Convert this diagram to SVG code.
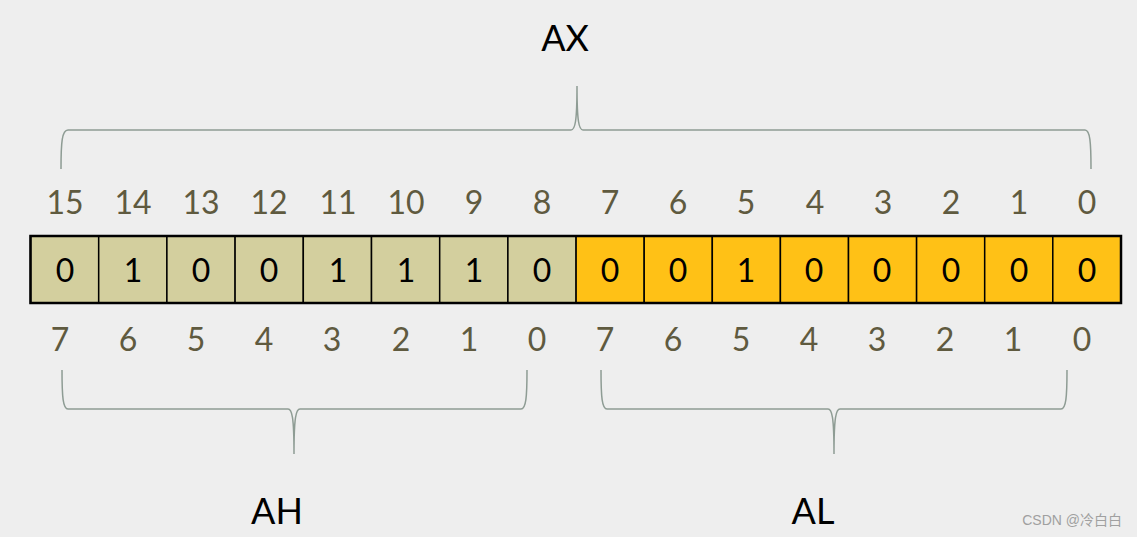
<svg xmlns="http://www.w3.org/2000/svg" width="1137" height="537" viewBox="0 0 1137 537">
<style>
.bg{fill:#eeeeee}
.hi{fill:#d3cf9e;stroke:#000;stroke-width:1.5}
.lo{fill:#ffc116;stroke:#000;stroke-width:1.5}
.frame{fill:none;stroke:#000;stroke-width:2.5}
.bit{font-family:Lato,"Open Sans",sans-serif;font-size:32px;fill:#000;text-anchor:middle}
.idx{font-family:Lato,"Open Sans",sans-serif;font-size:32px;fill:#5f5a3f;text-anchor:middle}
.name{font-family:Lato,"Liberation Sans",sans-serif;font-size:36px;fill:#000;text-anchor:middle}
.brace{fill:none;stroke:#8e9c94;stroke-width:1.5}
.wm{font-family:"Liberation Sans","Noto Sans CJK SC",sans-serif;font-size:14px;fill:#a0a0a0;text-anchor:end}
</style>
<rect class="bg" x="0" y="0" width="1137" height="537"/>

<g id="connectors">
<path id="brace-ax" class="brace" d="M61,169 C61,142 62,130 68,130 L571,130 C575,130 577,122 577,86 C577,122 579,130 583,130 L1085,130 C1090,130 1091,142 1091,169"/>
<path id="brace-ah" class="brace" d="M62,370 C62,397 63,409 68,409 L288,409 C292,409 294,417 294,454 C294,417 296,409 300,409 L521,409 C526,409 527,397 527,370"/>
<path id="brace-al" class="brace" d="M601,370 C601,397 602,409 607,409 L828,409 C832,409 834,417 834,454 C834,417 836,409 840,409 L1061,409 C1066,409 1067,397 1067,370"/>
</g>

<g id="register-ax">
<g id="ah-cells">
<rect class="hi" x="30.5" y="236" width="68.2" height="67"/>
<rect class="hi" x="98.7" y="236" width="68.2" height="67"/>
<rect class="hi" x="166.9" y="236" width="68.2" height="67"/>
<rect class="hi" x="235.1" y="236" width="68.2" height="67"/>
<rect class="hi" x="303.3" y="236" width="68.2" height="67"/>
<rect class="hi" x="371.5" y="236" width="68.2" height="67"/>
<rect class="hi" x="439.7" y="236" width="68.2" height="67"/>
<rect class="hi" x="507.9" y="236" width="68.2" height="67"/>
</g>
<g id="al-cells">
<rect class="lo" x="576.1" y="236" width="68.1" height="67"/>
<rect class="lo" x="644.2" y="236" width="68.1" height="67"/>
<rect class="lo" x="712.3" y="236" width="68.1" height="67"/>
<rect class="lo" x="780.4" y="236" width="68.1" height="67"/>
<rect class="lo" x="848.5" y="236" width="68.1" height="67"/>
<rect class="lo" x="916.6" y="236" width="68.1" height="67"/>
<rect class="lo" x="984.7" y="236" width="68.1" height="67"/>
<rect class="lo" x="1052.8" y="236" width="68.2" height="67"/>
</g>
<rect class="frame" x="30.5" y="236" width="1090.5" height="67"/>
</g>

<g id="bits">
<text class="bit" x="65" y="282">0</text>
<text class="bit" x="133" y="282">1</text>
<text class="bit" x="201" y="282">0</text>
<text class="bit" x="269" y="282">0</text>
<text class="bit" x="338" y="282">1</text>
<text class="bit" x="406" y="282">1</text>
<text class="bit" x="474" y="282">1</text>
<text class="bit" x="542" y="282">0</text>
<text class="bit" x="610" y="282">0</text>
<text class="bit" x="678" y="282">0</text>
<text class="bit" x="746" y="282">1</text>
<text class="bit" x="814" y="282">0</text>
<text class="bit" x="882" y="282">0</text>
<text class="bit" x="951" y="282">0</text>
<text class="bit" x="1019" y="282">0</text>
<text class="bit" x="1087" y="282">0</text>
</g>

<g id="ax-index">
<text class="idx" x="65" y="214">15</text>
<text class="idx" x="133" y="214">14</text>
<text class="idx" x="201" y="214">13</text>
<text class="idx" x="269" y="214">12</text>
<text class="idx" x="338" y="214">11</text>
<text class="idx" x="406" y="214">10</text>
<text class="idx" x="474" y="214">9</text>
<text class="idx" x="542" y="214">8</text>
<text class="idx" x="610" y="214">7</text>
<text class="idx" x="678" y="214">6</text>
<text class="idx" x="746" y="214">5</text>
<text class="idx" x="815" y="214">4</text>
<text class="idx" x="883" y="214">3</text>
<text class="idx" x="951" y="214">2</text>
<text class="idx" x="1019" y="214">1</text>
<text class="idx" x="1087" y="214">0</text>
</g>

<g id="byte-index">
<text class="idx" x="60" y="351">7</text>
<text class="idx" x="128" y="351">6</text>
<text class="idx" x="196" y="351">5</text>
<text class="idx" x="264" y="351">4</text>
<text class="idx" x="332" y="351">3</text>
<text class="idx" x="401" y="351">2</text>
<text class="idx" x="469" y="351">1</text>
<text class="idx" x="537" y="351">0</text>
<text class="idx" x="605" y="351">7</text>
<text class="idx" x="673" y="351">6</text>
<text class="idx" x="741" y="351">5</text>
<text class="idx" x="809" y="351">4</text>
<text class="idx" x="877" y="351">3</text>
<text class="idx" x="945" y="351">2</text>
<text class="idx" x="1013" y="351">1</text>
<text class="idx" x="1082" y="351">0</text>
</g>

<g id="label-ax"><text class="name" x="565" y="51">AX</text></g>
<g id="label-ah"><text class="name" x="277" y="524">AH</text></g>
<g id="label-al"><text class="name" x="813" y="524">AL</text></g>

<text class="wm" x="1122" y="525">CSDN @冷白白</text>
</svg>
